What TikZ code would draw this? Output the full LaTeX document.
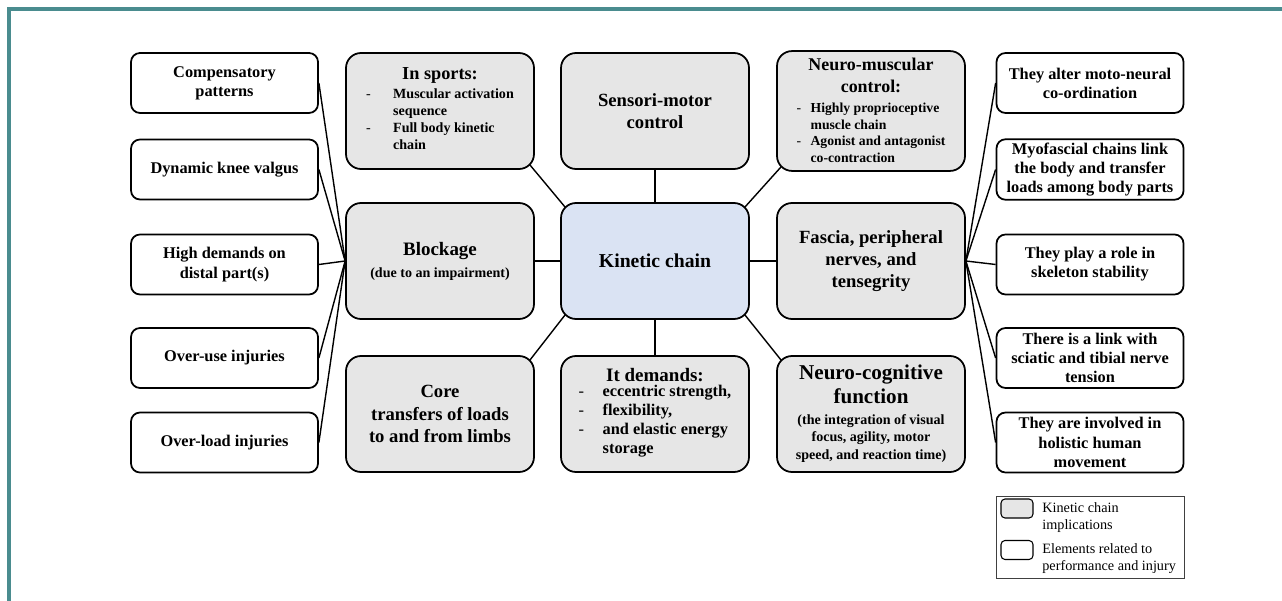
\documentclass[tikz,border=0pt]{standalone}
\usepackage{fontspec}
\setmainfont{Liberation Serif}
\usepackage{tikz}
\usetikzlibrary{positioning}
\definecolor{implgrey}{HTML}{E6E6E6}
\definecolor{chainblue}{HTML}{DAE3F3}
\definecolor{frameteal}{HTML}{4A8C8F}

\begin{document}
\begin{tikzpicture}[
            implic/.style={
                draw, line width=1pt, rounded corners=0.3cm, fill=implgrey,
                minimum width=3.76cm, minimum height=2.32cm, inner sep=2pt,
                align=center, font=\bfseries\fontsize{10.6}{12.6}\selectfont
            },
            central/.style={implic, fill=chainblue, font=\bfseries\fontsize{11.2}{13}\selectfont},
            element/.style={
                draw, line width=1pt, rounded corners=0.18cm, fill=white,
                minimum width=3.74cm, minimum height=1.2cm, inner sep=2pt,
                align=center, font=\bfseries\fontsize{9.3}{10.9}\selectfont
            },
            link/.style={line width=0.8pt},
            swatch/.style={draw, line width=0.6pt, rounded corners=0.08cm, minimum width=0.64cm, minimum height=0.38cm, inner sep=0pt},
            keytext/.style={anchor=north west, inner sep=0pt, align=left, font=\fontsize{8.1}{9.6}\selectfont}
        ]

            \useasboundingbox (0,0) rectangle (25.64,-12.02);

            % Frame
            \draw[frameteal, line width=1.8pt] (0.18,-12.02) -- (0.18,-0.18) -- (25.64,-0.18);

            % Centre and implications
            \node[central] (kin) at (13.10,-5.22) {Kinetic chain};

            \node[implic] (sports) at (8.80,-2.22) {{\fontsize{10.4}{12}\selectfont In sports:}\\[1pt]
                {\fontsize{8}{9.5}\selectfont
                \begin{tabular}{@{}p{0.54cm}@{}l@{}}
                \mdseries - & Muscular activation\\
                            & sequence\\
                \mdseries - & Full body kinetic\\
                            & chain
                \end{tabular}}};
            \node[implic] (sensori) at (13.10,-2.22) {Sensori-motor\\control};
            \node[implic] (neuromusc) at (17.42,-2.22) {{\fontsize{10.2}{12.8}\selectfont
                \begin{tabular}{@{}c@{}}Neuro-muscular\\control:\end{tabular}}\\
                {\fontsize{7.8}{9.4}\selectfont
                \begin{tabular}{@{}p{0.28cm}@{}l@{}}
                \mdseries - & Highly proprioceptive\\
                            & muscle chain\\
                \mdseries - & Agonist and antagonist\\
                            & co-contraction
                \end{tabular}}};

            \node[implic] (block) at (8.80,-5.22) {{\fontsize{10.8}{12}\selectfont Blockage}\\
                {\fontsize{8}{9.6}\selectfont (due to an impairment)}};
            \node[implic] (fascia) at (17.42,-5.22) {Fascia, peripheral\\nerves, and\\tensegrity};

            \node[implic] (core) at (8.80,-8.28) {Core\\transfers of loads\\to and from limbs};
            \node[implic] (demands) at (13.10,-8.28) {{\fontsize{10.8}{12.6}\selectfont It demands:}\\
                {\fontsize{9.3}{10.8}\selectfont
                \begin{tabular}{@{}p{0.48cm}@{}l@{}}
                \mdseries - & eccentric strength,\\
                \mdseries - & flexibility,\\
                \mdseries - & and elastic energy\\
                            & storage
                \end{tabular}}};
            \node[implic] (cognit) at (17.42,-8.28) {{\fontsize{12}{13.4}\selectfont
                \begin{tabular}{@{}c@{}}Neuro-cognitive\\function\end{tabular}}\\
                {\fontsize{8}{10}\selectfont
                \begin{tabular}{@{}c@{}}(the integration of visual\\focus, agility, motor\\speed, and reaction time)\end{tabular}}};

            % Performance and injury, left
            \node[element] (comp) at (4.49,-1.66) {Compensatory\\patterns};
            \node[element] (knee) at (4.49,-3.39) {Dynamic knee valgus};
            \node[element] (distal) at (4.49,-5.29) {High demands on\\distal part(s)};
            \node[element] (overuse) at (4.49,-7.16) {Over-use injuries};
            \node[element] (overload) at (4.49,-8.85) {Over-load injuries};

            % Performance and injury, right
            \node[element] (alter) at (21.80,-1.66) {They alter moto-neural\\co-ordination};
            \node[element] (myofasc) at (21.80,-3.39) {Myofascial chains link\\the body and transfer\\loads among body parts};
            \node[element] (skeleton) at (21.80,-5.29) {They play a role in\\skeleton stability};
            \node[element] (sciatic) at (21.80,-7.16) {There is a link with\\sciatic and tibial nerve\\tension};
            \node[element] (holistic) at (21.80,-8.85) {They are involved in\\holistic human\\movement};

            % Links from the centre (diagonals meet the rounded corners)
            \draw[link] (kin) -- (sensori);
            \draw[link] (kin) -- (demands);
            \draw[link] (kin) -- (block);
            \draw[link] (kin) -- (fascia);
            \draw[link] ([shift={(0.1,-0.1)}]kin.north west) -- ([shift={(-0.1,0.1)}]sports.south east);
            \draw[link] ([shift={(-0.1,-0.1)}]kin.north east) -- ([shift={(0.1,0.1)}]neuromusc.south west);
            \draw[link] ([shift={(0.1,0.1)}]kin.south west) -- ([shift={(-0.1,-0.1)}]core.north east);
            \draw[link] ([shift={(-0.1,0.1)}]kin.south east) -- ([shift={(0.1,-0.1)}]cognit.north west);

            % Fan to the left
            \draw[link] (block.west) -- (comp.east);
            \draw[link] (block.west) -- (knee.east);
            \draw[link] (block.west) -- (distal.east);
            \draw[link] (block.west) -- (overuse.east);
            \draw[link] (block.west) -- (overload.east);

            % Fan to the right
            \draw[link] (fascia.east) -- (alter.west);
            \draw[link] (fascia.east) -- (myofasc.west);
            \draw[link] (fascia.east) -- (skeleton.west);
            \draw[link] (fascia.east) -- (sciatic.west);
            \draw[link] (fascia.east) -- (holistic.west);

            % Legend
            \draw[line width=0.5pt, black!75] (19.92,-9.92) rectangle (23.68,-11.56);
            \node[swatch, fill=implgrey] (keyimpl) at (20.34,-10.17) {};
            \node[swatch, fill=white] (keyelem) at (20.34,-11.00) {};
            \node[keytext] (keyimpltext) at (20.84,-10.04) {Kinetic chain\\implications};
            \node[keytext] (keyelemtext) at (20.84,-10.87) {Elements related to\\performance and injury};

        \end{tikzpicture}
\end{document}
